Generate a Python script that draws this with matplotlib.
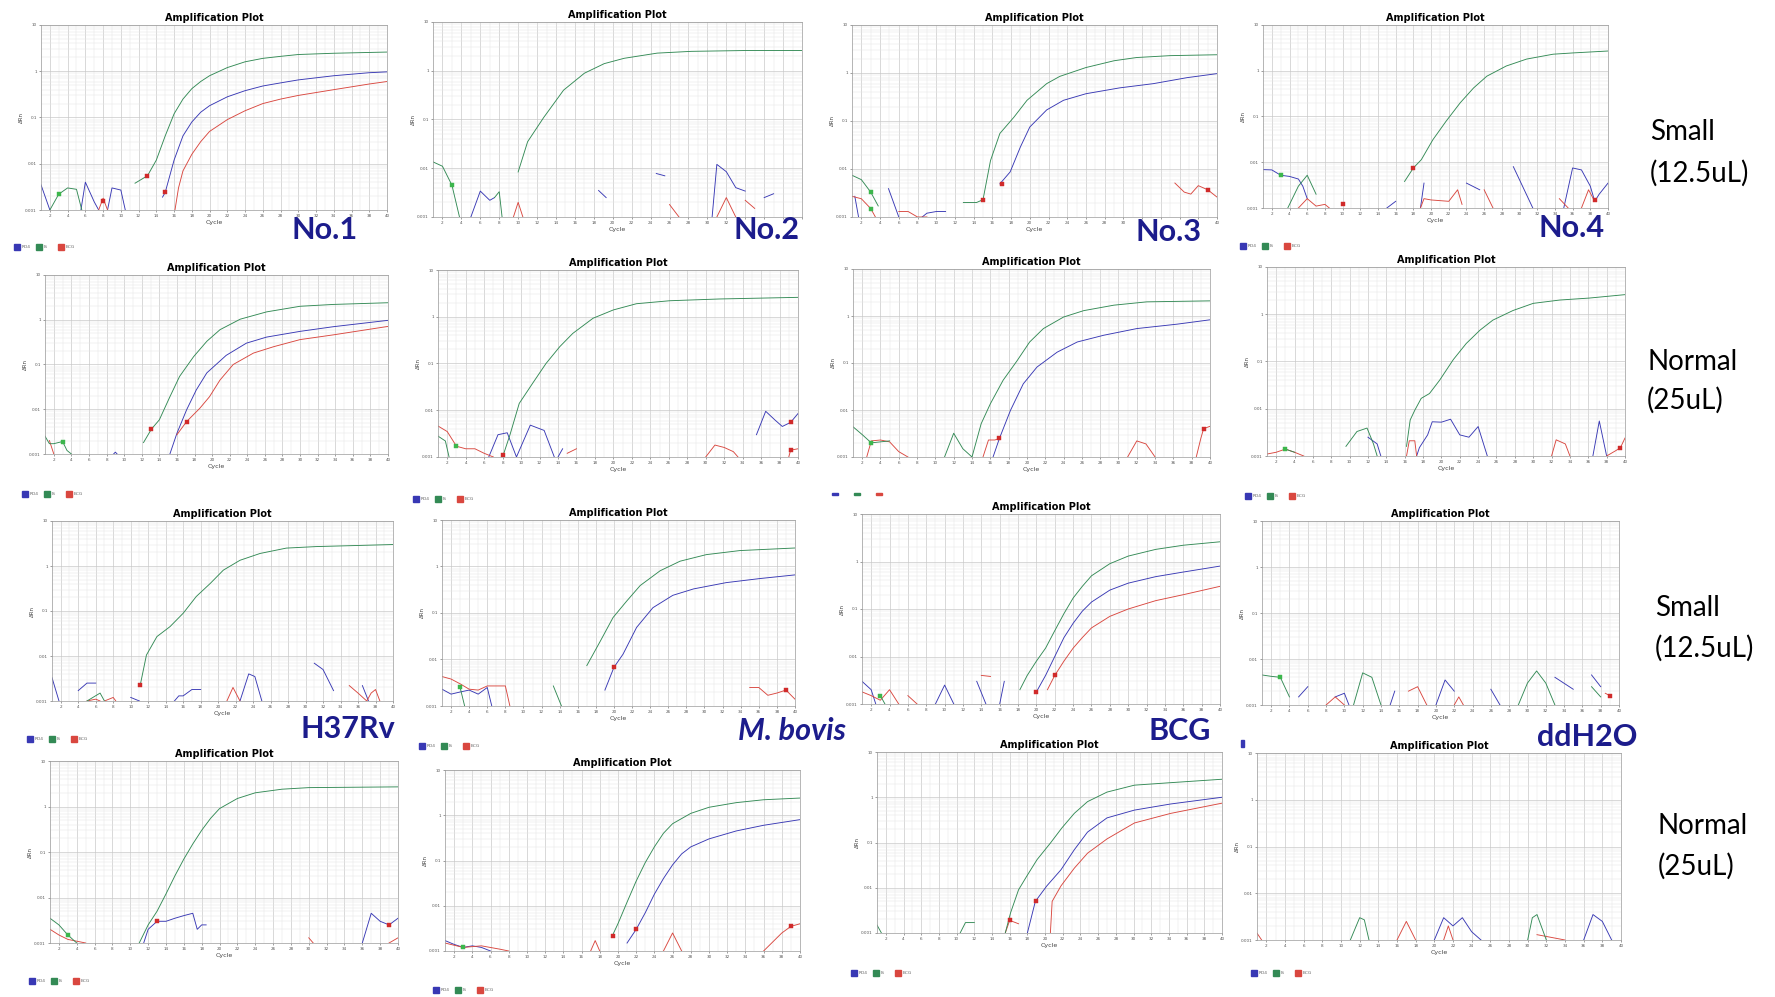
import numpy as np
import matplotlib
matplotlib.use("Agg")
import matplotlib.pyplot as plt
from matplotlib.patches import Rectangle
from matplotlib.ticker import FixedLocator, NullFormatter

W, H = 1775, 997

# ---- data: (cycle, delta Rn), None = break in the trace ----
# row 1, small volume
no1_s_rd4 = [(1, 0.0035), (2, 0.001), None, (5.5, 0.001), (6, 0.004), (7, 0.0015), (7.5, 0.001), None,
             (8.5, 0.001), (9, 0.003), (10, 0.0027), (10.5, 0.001), None,
             (14.7, 0.0019), (15, 0.0024), (16, 0.012), (17, 0.04), (18, 0.08), (19, 0.13), (20, 0.18),
             (22, 0.28), (24, 0.38), (26, 0.48), (28, 0.56), (30, 0.65), (34, 0.8), (38, 0.93), (40, 0.97)]
no1_s_is = [(2, 0.001), (3, 0.0022), (4, 0.003), (5, 0.0028), (5.6, 0.001), None,
            (11.6, 0.0038), (13, 0.0055), (14, 0.012), (15, 0.04), (16, 0.12), (17, 0.25), (18, 0.42),
            (19, 0.6), (20, 0.8), (22, 1.2), (24, 1.6), (26, 1.9), (28, 2.1), (30, 2.3), (34, 2.45), (40, 2.6)]
no1_s_bcg = [(7.5, 0.001), (8, 0.0018), (8.5, 0.001), None,
             (16.1, 0.001), (16.5, 0.003), (17, 0.007), (18, 0.016), (19, 0.03), (20, 0.05), (22, 0.09),
             (24, 0.14), (26, 0.2), (28, 0.25), (30, 0.3), (34, 0.4), (38, 0.53), (40, 0.6)]
no1_s_mk = [(3, 0.0022, "g"), (13, 0.0055, "r"), (15, 0.0024, "r"), (8, 0.0016, "r")]

no2_s_rd4 = [(5, 0.001), (6, 0.0034), (7, 0.0022), (7.5, 0.0025), None, (18.5, 0.0035), (19.3, 0.0025), None,
             (24.6, 0.0078), (25.5, 0.007), None, (30.5, 0.001), (31, 0.012), (32, 0.0085), (33, 0.004),
             (34, 0.0034), None, (36, 0.0025), (37, 0.003)]
no2_s_is = [(1, 0.0135), (2, 0.011), (3, 0.0045), (3.8, 0.001), None, (7.5, 0.0025), (8, 0.0033), (8.3, 0.001), None,
            (10, 0.0084), (11, 0.035), (12.7, 0.11), (14.8, 0.4), (17, 0.89), (19.1, 1.4), (21.2, 1.8),
            (24.7, 2.3), (28.3, 2.5), (34, 2.6), (40, 2.6)]
no2_s_bcg = [(9.5, 0.001), (10, 0.002), (10.5, 0.001), None, (26, 0.0018), (27, 0.001), None,
             (31, 0.001), (32, 0.0025), (33, 0.001), None, (34, 0.0022), (35, 0.0015)]
no2_s_mk = [(3, 0.0045, "g")]

no3_s_rd4 = [(1.3, 0.0027), (1.7, 0.001), None, (4.9, 0.0039), (6, 0.001), None,
             (8.5, 0.001), (9, 0.0012), (10, 0.0013), (11, 0.0013), None,
             (16.8, 0.0049), (17.9, 0.0087), (19, 0.029), (20, 0.075), (21.8, 0.17), (23.6, 0.27), (26, 0.37),
             (29.6, 0.49), (33.2, 0.6), (36.8, 0.8), (40, 0.97)]
no3_s_is = [(1, 0.0074), (2, 0.006), (3, 0.0033), (3.8, 0.0017), None,
            (12.9, 0.002), (14.3, 0.002), (15, 0.0023), (15.8, 0.015), (16.8, 0.055), (18.3, 0.12),
            (19.7, 0.27), (21.8, 0.6), (23.2, 0.85), (26, 1.3), (29, 1.8), (31.4, 2.1), (35, 2.3), (40, 2.4)]
no3_s_bcg = [(1, 0.0027), (2, 0.0024), (3, 0.0015), (3.5, 0.001), None, (6, 0.0013), (7, 0.0013), (8, 0.001),
             (9, 0.001), None, (35.5, 0.0051), (36.5, 0.0033), (37.2, 0.003), (38, 0.0045), (39, 0.0037),
             (40, 0.0026)]
no3_s_mk = [(3, 0.0033, "g"), (3, 0.0015, "g"), (15, 0.0023, "r"), (17, 0.0049, "r"), (39, 0.0037, "r")]

no4_s_rd4 = [(1, 0.0069), (2, 0.0068), (3, 0.0052), (4, 0.0049), (5, 0.0043), (5.5, 0.003), (6, 0.0016), None,
             (15, 0.001), (16, 0.0014), None, (18.8, 0.001), (19.2, 0.0035), None, (24, 0.0035), (25.5, 0.0025),
             None, (29.3, 0.008), (31.5, 0.001), None, (35, 0.001), (36, 0.0075), (37, 0.0068), (38, 0.003),
             (38.5, 0.0014), (39, 0.002), (40, 0.0035)]
no4_s_is = [(3.8, 0.001), (5, 0.003), (6, 0.0052), (7, 0.002), None,
            (17, 0.0038), (18, 0.0075), (18.9, 0.0114), (20.2, 0.031), (21.7, 0.079), (23.3, 0.2), (24.8, 0.42),
            (26.3, 0.76), (28.5, 1.27), (30.8, 1.8), (33.8, 2.3), (36, 2.45), (40, 2.7)]
no4_s_bcg = [(5, 0.001), (6, 0.0016), (7, 0.0011), (8, 0.0012), (8.5, 0.001), None,
             (18.8, 0.001), (19.2, 0.0016), (20, 0.0015), (22, 0.0014), (23, 0.0025), (23.5, 0.0012), None,
             (26, 0.0025), (27, 0.001), None, (34.5, 0.0016), (35.5, 0.001), None,
             (37, 0.001), (37.8, 0.0025), (38.5, 0.0014)]
no4_s_mk = [(3, 0.0052, "g"), (18, 0.0075, "r"), (10, 0.0012, "r"), (38.5, 0.0015, "r")]

# row 2, normal volume
no1_n_rd4 = [(8.8, 0.001), (9, 0.0011), (9.2, 0.001), None,
             (15.2, 0.001), (16, 0.0029), (17.1, 0.0097), (18.2, 0.027), (19.4, 0.065), (21.6, 0.16),
             (23.9, 0.3), (26.2, 0.41), (30, 0.55), (33.8, 0.7), (40, 0.97)]
no1_n_is = [(1, 0.0025), (1.5, 0.0017), (2, 0.0017), (3, 0.0019), (3.5, 0.0012), (4, 0.001), None,
            (12.2, 0.0018), (13.1, 0.0036), (14, 0.0058), (15.2, 0.019), (16.3, 0.054), (17.9, 0.15),
            (19.4, 0.33), (20.9, 0.6), (23.2, 1.03), (26.2, 1.5), (30, 2.0), (33.8, 2.2), (40, 2.4)]
no1_n_bcg = [(1.5, 0.002), (2, 0.001), None,
             (16, 0.0027), (17.1, 0.0053), (18.6, 0.0105), (19.7, 0.019), (20.9, 0.045), (22.4, 0.1),
             (24.7, 0.18), (27, 0.25), (30, 0.36), (33.8, 0.46), (40, 0.71)]
no1_n_mk = [(3, 0.0019, "g"), (13.1, 0.0036, "r"), (17.1, 0.0053, "r")]

no2_n_rd4 = [(6.5, 0.001), (7.5, 0.003), (8.5, 0.0033), (9.5, 0.001), (11, 0.0048), (12.5, 0.0037),
             (13.6, 0.001), None, (14, 0.001), (14.5, 0.0015), None,
             (35.5, 0.003), (36.5, 0.0095), (37.5, 0.0062), (38.3, 0.0045), (39.2, 0.0055), (40, 0.0085)]
no2_n_is = [(1, 0.0028), (1.8, 0.0022), (2.2, 0.001), None,
            (8, 0.001), (8.8, 0.003), (9.8, 0.014), (11.3, 0.039), (12.7, 0.1), (14.2, 0.23), (15.6, 0.44),
            (17.8, 0.93), (20, 1.4), (22.5, 1.9), (26.1, 2.2), (31.5, 2.4), (40, 2.6)]
no2_n_bcg = [(1, 0.0046), (2, 0.0035), (3, 0.0017), (4, 0.0015), (5, 0.0015), (6, 0.0012), (7, 0.001), None,
             (15, 0.0012), (16, 0.0015), None, (30, 0.001), (31, 0.0018), (32, 0.0016), (33, 0.0013),
             (33.5, 0.001), None, (39, 0.001), (39.2, 0.0014), (40, 0.0015)]
no2_n_mk = [(3, 0.0017, "g"), (8, 0.0011, "r"), (39.2, 0.0055, "r"), (39.2, 0.0014, "r")]

no3_n_rd4 = [(16.3, 0.001), (17, 0.0025), (18.2, 0.0098), (19.6, 0.036), (21.1, 0.082), (23.3, 0.17),
             (25.5, 0.28), (28.4, 0.39), (32, 0.54), (36.4, 0.67), (40, 0.83)]
no3_n_is = [(1, 0.0044), (2, 0.003), (3, 0.002), (4, 0.0021), (5, 0.0022), None,
            (11, 0.001), (12, 0.0032), (13, 0.0015), (14, 0.001), (15, 0.0051), (16, 0.0135), (17.4, 0.043),
            (18.9, 0.11), (20.3, 0.28), (21.8, 0.54), (24, 0.95), (26.2, 1.3), (29.5, 1.7), (33.1, 2.0),
            (40, 2.1)]
no3_n_bcg = [(2.5, 0.001), (3, 0.0022), (4, 0.0023), (5, 0.0021), (6, 0.0013), (7, 0.001), None,
             (15.2, 0.001), (15.8, 0.0023), (16.5, 0.0023), (17, 0.0025), None,
             (31, 0.001), (32, 0.0022), (33, 0.0019), (34, 0.001), None,
             (38.5, 0.001), (39, 0.0025), (39.3, 0.004), (40, 0.0045)]
no3_n_mk = [(3, 0.002, "g"), (17, 0.0025, "r"), (39.3, 0.004, "r")]

no4_n_rd4 = [(12, 0.0025), (13, 0.0018), (13.4, 0.001), None,
             (17.3, 0.001), (17.6, 0.0015), (18.5, 0.0028), (19, 0.0053), (20, 0.0052), (21, 0.006),
             (22, 0.0028), (23, 0.0025), (24, 0.0042), (25, 0.001), None, (36.5, 0.001), (37.2, 0.0055),
             (38, 0.001)]
no4_n_is = [(3, 0.0014), (4, 0.0012), None, (9.6, 0.0016), (10.8, 0.0033), (11.9, 0.0039), (12.6, 0.0018),
            (13, 0.001), None, (16.2, 0.0016), (16.6, 0.0058), (17.1, 0.0093), (17.8, 0.0166), (18.7, 0.021),
            (19.8, 0.04), (21.3, 0.11), (22.7, 0.24), (24.2, 0.46), (25.6, 0.75), (27.8, 1.2), (30, 1.7),
            (32.9, 2.0), (36.1, 2.2), (40, 2.6)]
no4_n_bcg = [(1, 0.0011), (2, 0.0012), (3, 0.0014), (4, 0.0012), (5, 0.001), None,
             (16.2, 0.001), (16.5, 0.0021), (17.1, 0.0021), (17.3, 0.001), None,
             (32, 0.001), (32.5, 0.0022), (33.5, 0.0018), (34, 0.001), None,
             (38, 0.001), (39, 0.0013), (39.5, 0.0015), (40, 0.0024)]
no4_n_mk = [(3, 0.0014, "g"), (39.5, 0.0015, "r")]

# row 3, small volume, strains
h37_s_rd4 = [(1, 0.0033), (1.8, 0.001), None, (4, 0.0017), (5, 0.0025), (6, 0.0025), None,
             (10, 0.0012), (11, 0.001), None, (15, 0.001), (15.5, 0.0013), (16, 0.0013), (17, 0.0018),
             (18, 0.0018), None, (22.5, 0.001), (23.5, 0.004), (24.2, 0.0035), (25, 0.001), None,
             (31, 0.0069), (32, 0.005), (33.2, 0.0017), None, (36.5, 0.0022), (37.2, 0.001)]
h37_s_is = [(5, 0.001), (6.5, 0.0015), (7, 0.001), None,
            (11.1, 0.0023), (11.8, 0.0105), (13, 0.027), (14.5, 0.045), (16, 0.089), (17.5, 0.21),
            (19.1, 0.41), (20.6, 0.81), (22.5, 1.34), (24.8, 1.9), (27.8, 2.5), (31.2, 2.7), (40, 3.0)]
h37_s_bcg = [(5, 0.001), (6, 0.0011), (6.5, 0.001), None, (7, 0.001), (8, 0.0012), (8.3, 0.001), None,
             (21, 0.001), (21.7, 0.002), (22.5, 0.001), None,
             (35, 0.0022), (36, 0.0015), (37, 0.001), (37.5, 0.0015), (38, 0.0018), (38.5, 0.001)]
h37_s_mk = [(11.1, 0.0023, "r")]

bov_s_rd4 = [(1, 0.0023), (2, 0.0018), (3, 0.002), (4, 0.0022), (5, 0.0018), (6, 0.0025), (6.5, 0.001), None,
             (19, 0.0022), (20, 0.0068), (21, 0.013), (22.5, 0.049), (24.3, 0.13), (26.5, 0.24), (28.8, 0.33),
             (32.4, 0.45), (36.1, 0.55), (40, 0.66)]
bov_s_is = [(3, 0.0025), (3.5, 0.001), None, (13.3, 0.0027), (14.2, 0.001), None,
            (17, 0.0074), (18.5, 0.025), (19.9, 0.08), (21.4, 0.18), (22.9, 0.39), (25.1, 0.81), (27.3, 1.3),
            (30.2, 1.8), (33.9, 2.2), (40, 2.5)]
bov_s_bcg = [(1, 0.0043), (2, 0.0038), (3, 0.003), (4, 0.0023), (5, 0.0022), (6, 0.0027), (7, 0.0027),
             (8, 0.0027), (8.5, 0.001), None, (35, 0.0025), (36, 0.0025), (37, 0.0017), (38, 0.0019),
             (39, 0.0022), (40, 0.0014)]
bov_s_mk = [(3, 0.0025, "g"), (20, 0.0068, "r"), (39, 0.0022, "r")]

bcg_s_rd4 = [(1, 0.003), (2, 0.002), (2.5, 0.001), None, (9, 0.001), (10, 0.0025), (11, 0.001), None,
             (13.5, 0.003), (14.5, 0.001), None, (16, 0.001), (16.5, 0.003), None,
             (20, 0.0018), (21, 0.004), (22, 0.01), (23, 0.025), (24, 0.05), (25, 0.09), (26, 0.14), (28, 0.25),
             (30, 0.35), (33, 0.48), (36, 0.6), (40, 0.8)]
bcg_s_is = [(3, 0.0015), (3.5, 0.001), None,
            (18.2, 0.002), (19, 0.004), (20, 0.008), (21, 0.015), (22, 0.035), (23, 0.08), (24, 0.17), (25, 0.3),
            (26, 0.5), (28, 0.9), (30, 1.3), (33, 1.8), (36, 2.2), (40, 2.6)]
bcg_s_bcg = [(1, 0.0018), (2, 0.0015), (3, 0.0012), (4, 0.002), (5, 0.001), None, (6, 0.0015), (7, 0.001), None,
             (14, 0.004), (15, 0.0038), None,
             (21.2, 0.002), (22, 0.004), (23, 0.008), (24, 0.015), (25, 0.025), (26, 0.04), (28, 0.07), (30, 0.1),
             (33, 0.15), (36, 0.2), (40, 0.3)]
bcg_s_mk = [(3, 0.0015, "g"), (20, 0.0018, "r"), (22, 0.004, "r")]

h2o_s_rd4 = [(5, 0.0015), (6, 0.0025), None, (9, 0.0015), (10, 0.0018), (10.5, 0.001), None,
             (15, 0.001), (15.5, 0.002), None, (20, 0.001), (21, 0.0035), (22, 0.002), None,
             (26, 0.0022), (27, 0.001), None, (33, 0.004), (35, 0.0022), None, (37, 0.0045), (38, 0.0025)]
h2o_s_is = [(1, 0.0045), (2, 0.0042), (3, 0.004), (4, 0.0015), None, (11, 0.001), (12, 0.005), (13, 0.004),
            (14, 0.001), None, (29, 0.001), (30, 0.003), (31, 0.0055), (32, 0.003), (33, 0.001), None,
            (37, 0.0025), (38, 0.0015)]
h2o_s_bcg = [(8, 0.001), (9, 0.0015), (10, 0.001), None, (17, 0.002), (18, 0.0025), (19, 0.001), None,
             (22, 0.001), (22.5, 0.0015), (23, 0.001), None, (38.5, 0.0018), (39, 0.0016)]
h2o_s_mk = [(3, 0.004, "g"), (39, 0.0016, "r")]

# row 4, normal volume, strains
h37_n_rd4 = [(11.5, 0.001), (12, 0.002), (13, 0.003), (14, 0.003), (15, 0.0035), (16, 0.004), (17, 0.0045),
             (17.5, 0.002), (18, 0.0025), (18.5, 0.0025), None, (36, 0.001), (37, 0.0045), (38, 0.003),
             (39, 0.0025), (40, 0.0035)]
h37_n_is = [(1, 0.0035), (2, 0.0025), (3, 0.0015), (4, 0.001), None,
            (11, 0.001), (12, 0.0025), (13, 0.005), (14, 0.012), (15, 0.03), (16, 0.07), (17, 0.15), (18, 0.3),
            (19, 0.55), (20, 0.9), (22, 1.5), (24, 2.0), (27, 2.4), (30, 2.6), (40, 2.7)]
h37_n_bcg = [(1, 0.002), (2, 0.0015), (3, 0.0012), (5, 0.001), None, (30, 0.0013), (30.5, 0.001), None,
             (39, 0.001), (40, 0.0013)]
h37_n_mk = [(3, 0.0015, "g"), (13, 0.003, "r"), (39, 0.0025, "r")]

bov_n_rd4 = [(1, 0.0017), (2, 0.0014), (3, 0.0012), (4, 0.0013), (5, 0.0012), (6, 0.001), None,
             (21, 0.0015), (22, 0.003), (23, 0.007), (24, 0.018), (25, 0.04), (26, 0.08), (27, 0.14), (28, 0.2),
             (30, 0.3), (33, 0.45), (36, 0.6), (40, 0.8)]
bov_n_is = [(19.3, 0.002), (20, 0.004), (21, 0.012), (22, 0.035), (23, 0.09), (24, 0.2), (25, 0.4), (26, 0.65),
            (28, 1.1), (30, 1.5), (33, 1.9), (36, 2.2), (40, 2.4)]
bov_n_bcg = [(1, 0.0015), (3, 0.0012), (5, 0.0013), (7, 0.0011), (8, 0.001), None,
             (17, 0.001), (17.5, 0.0017), (18, 0.001), None, (25, 0.001), (26, 0.0025), (27, 0.001), None,
             (36, 0.001), (38, 0.0025), (39, 0.0035), (40, 0.004)]
bov_n_mk = [(3, 0.0012, "g"), (19.5, 0.0022, "r"), (22, 0.003, "r"), (39, 0.0035, "r")]

bcg_n_rd4 = [(18, 0.001), (18.9, 0.005), (20.2, 0.011), (21.8, 0.025), (23.3, 0.069), (24.8, 0.17), (27, 0.35),
             (30.1, 0.52), (34.2, 0.71), (40, 1.0)]
bcg_n_is = [(1, 0.0015), (1.5, 0.001), None, (10.4, 0.001), (11, 0.0017), (12, 0.0017), None,
            (15.5, 0.001), (16.1, 0.0028), (17, 0.009), (18, 0.019), (19.1, 0.042), (20.6, 0.097), (21.9, 0.21),
            (23.3, 0.44), (24.8, 0.8), (27, 1.3), (30.1, 1.85), (34.2, 2.1), (40, 2.5)]
bcg_n_bcg = [(15.5, 0.001), (16, 0.0019), (17, 0.0016), None,
             (20.6, 0.001), (20.8, 0.005), (21.8, 0.011), (23.3, 0.027), (24.8, 0.058), (27, 0.12), (30.1, 0.27),
             (34.2, 0.44), (40, 0.74)]
bcg_n_mk = [(16, 0.0019, "r"), (19, 0.005, "r")]

h2o_n_rd4 = [(20, 0.001), (21, 0.003), (22, 0.002), (23, 0.003), (24, 0.0015), (25, 0.001), None,
             (36, 0.001), (37, 0.0035), (38, 0.0025), (39, 0.001)]
h2o_n_is = [(11, 0.001), (12, 0.003), (12.5, 0.0027), (13, 0.001), None, (30, 0.001), (30.5, 0.003),
            (31, 0.0035), (32, 0.001)]
h2o_n_bcg = [(1, 0.0014), (1.5, 0.001), None, (16, 0.001), (17, 0.0025), (18, 0.001), None,
             (21, 0.001), (21.5, 0.002), (22, 0.001), None, (31, 0.0013), (34, 0.001)]
h2o_n_mk = []

y_ticks = [0.001, 0.01, 0.1, 1, 10]
y_tick_labels = ["0.001", "0.01", "0.1", "1", "10"]
x_ticks = list(range(2, 41, 2))
legend_names = ["RD4", "IS", "BCG"]

C_RD4 = "#3838b4"
C_IS = "#338a55"
C_BCG = "#d9473f"
NAVY = "#1c1c8c"

# panel pixel boxes (left, top, right, bottom), legend position or None,
# x tick labels that sit under a big sample label
panels = [
    ((41, 25, 387, 210), no1_s_rd4, no1_s_is, no1_s_bcg, no1_s_mk, (14, 247), []),
    ((433, 22, 802, 217), no2_s_rd4, no2_s_is, no2_s_bcg, no2_s_mk, None, [34, 36, 38, 40]),
    ((852, 25, 1217, 217), no3_s_rd4, no3_s_is, no3_s_bcg, no3_s_mk, None, [32, 34, 36, 38]),
    ((1263, 25, 1608, 208), no4_s_rd4, no4_s_is, no4_s_bcg, no4_s_mk, (1240, 246), []),
    ((45, 275, 388, 454), no1_n_rd4, no1_n_is, no1_n_bcg, no1_n_mk, (22, 494), []),
    ((438, 270, 798, 457), no2_n_rd4, no2_n_is, no2_n_bcg, no2_n_mk, (413, 499), []),
    ((853, 269, 1210, 457), no3_n_rd4, no3_n_is, no3_n_bcg, no3_n_mk, None, []),
    ((1267, 267, 1625, 456), no4_n_rd4, no4_n_is, no4_n_bcg, no4_n_mk, (1245, 496), []),
    ((52, 521, 393, 701), h37_s_rd4, h37_s_is, h37_s_bcg, h37_s_mk, (27, 739), []),
    ((442, 520, 795, 706), bov_s_rd4, bov_s_is, bov_s_bcg, bov_s_mk, (419, 746), []),
    ((862, 514, 1220, 704), bcg_s_rd4, bcg_s_is, bcg_s_bcg, bcg_s_mk, None, []),
    ((1262, 521, 1619, 705), h2o_s_rd4, h2o_s_is, h2o_s_bcg, h2o_s_mk, None, []),
    ((50, 761, 398, 943), h37_n_rd4, h37_n_is, h37_n_bcg, h37_n_mk, (29, 981), []),
    ((445, 770, 800, 951), bov_n_rd4, bov_n_is, bov_n_bcg, bov_n_mk, (433, 990), []),
    ((877, 752, 1222, 933), bcg_n_rd4, bcg_n_is, bcg_n_bcg, bcg_n_mk, (851, 973), []),
    ((1257, 753, 1621, 940), h2o_n_rd4, h2o_n_is, h2o_n_bcg, h2o_n_mk, (1251, 973), []),
]


def fx(x):
    return x / W


def fy(y):
    return 1 - y / H


def to_xy(pts):
    xs = [np.nan if p is None else p[0] for p in pts]
    ys = [np.nan if p is None else p[1] for p in pts]
    return np.array(xs), np.array(ys)


def swatch(x0, y0, w, h, col):
    fig.add_artist(Rectangle((fx(x0), fy(y0 + h)), w / W, h / H, color=col,
                             transform=fig.transFigure))


fig = plt.figure(figsize=(W / 100, H / 100), dpi=100)
fig.patch.set_facecolor("white")

for box, rd4, is_, bcg, marks, leg, hidden in panels:
    l, t, r, b = box
    ax = fig.add_axes([fx(l), fy(b), (r - l) / W, (b - t) / H])
    ax.set_yscale("log")
    ax.set_xlim(1, 40)
    ax.set_ylim(0.001, 10)
    ax.yaxis.set_major_locator(FixedLocator(y_ticks))
    ax.set_yticklabels(y_tick_labels)
    ax.yaxis.set_minor_formatter(NullFormatter())
    ax.xaxis.set_major_locator(FixedLocator(x_ticks))
    ax.set_xticklabels(["" if v in hidden else str(v) for v in x_ticks])
    ax.xaxis.set_minor_locator(FixedLocator(range(1, 41)))
    ax.tick_params(labelsize=3, colors="#555555", length=1.5, width=0.4, pad=1.5)
    ax.tick_params(which="minor", length=0)
    ax.grid(which="major", color="#c9c9c9", lw=0.5)
    ax.grid(which="minor", color="#e6e6e6", lw=0.35)
    for s in ax.spines.values():
        s.set_color("#9a9a9a")
        s.set_linewidth(0.5)
    ax.set_title("Amplification Plot", fontsize=7, fontweight="bold", pad=3)
    ax.set_xlabel("Cycle", fontsize=4.5, color="#444444", labelpad=1)
    ax.set_ylabel("ΔRn", fontsize=4, color="#444444", labelpad=1)

    for pts, col in ((rd4, C_RD4), (bcg, C_BCG), (is_, C_IS)):
        xs, ys = to_xy(pts)
        ax.plot(xs, ys, color=col, lw=0.65)
    for cx, cy, c in marks:
        mc = "#3cb64c" if c == "g" else "#d02a2a"
        ax.plot(cx, cy, marker="s", ms=2.6, color=mc, mec=mc, mew=0.3)

    if leg is not None:
        lx, ly = leg
        for i, (name, col) in enumerate(zip(legend_names, [C_RD4, C_IS, C_BCG])):
            x0 = lx + i * 22
            swatch(x0, ly - 3, 6, 6, col)
            fig.text(fx(x0 + 8), fy(ly), name, fontsize=3.2, color="#666666", va="center")

# panel No.3 (normal) shows only faint dashes where its legend would be
for i, col in enumerate([C_RD4, C_IS, C_BCG]):
    swatch(832 + i * 22, 493, 6, 1.5, col)
# stray legend fragment under the ddH2O (small) panel
swatch(1241, 740, 3, 7, C_RD4)

# sample labels
big = dict(fontsize=22, fontweight="bold", color=NAVY, family="Lato", ha="center", va="center")
fig.text(fx(325), fy(230), "No.1", **big)
fig.text(fx(766), fy(230), "No.2", **big)
fig.text(fx(1168), fy(232), "No.3", **big)
fig.text(fx(1572), fy(228), "No.4", **big)
fig.text(fx(348), fy(729), "H37Rv", **big)
fig.text(fx(792), fy(731), "M. bovis", style="italic", **big)
fig.text(fx(1180), fy(731), "BCG", **big)
fig.text(fx(1587), fy(737), "ddH2O", **big)

# volume labels
vol = dict(fontsize=20, color="black", family="Lato", ha="left", va="center")
fig.text(fx(1650), fy(132), "Small", **vol)
fig.text(fx(1650), fy(173), "(12.5uL)", **vol)
fig.text(fx(1647), fy(362), "Normal", **vol)
fig.text(fx(1647), fy(400), "(25uL)", **vol)
fig.text(fx(1655), fy(608), "Small", **vol)
fig.text(fx(1655), fy(648), "(12.5uL)", **vol)
fig.text(fx(1658), fy(826), "Normal", **vol)
fig.text(fx(1658), fy(866), "(25uL)", **vol)

fig.savefig("out.png", dpi=100)
